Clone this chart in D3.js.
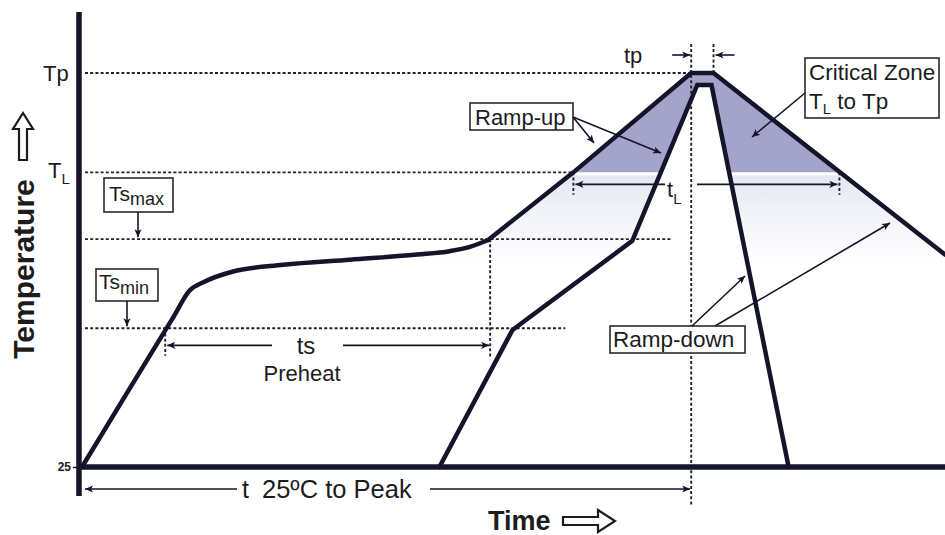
<!DOCTYPE html>
<html>
<head>
<meta charset="utf-8">
<script src="https://cdn.jsdelivr.net/npm/d3@7"></script>
<style>
  body { margin: 0; background: #fff; }
  svg { display: block; font-family: "Liberation Sans", Arial, sans-serif; }
</style>
</head>
<body>
<svg id="chart" width="945" height="535"></svg>
<script>
// Reflow soldering profile (schematic): time in seconds vs temperature in °C.

// Upper (maximum) profile
const outerTime = [0, 20, 45, 53, 60, 74, 99, 132, 165, 181, 191, 200, 242, 300, 311, 425];
const outerTemp = [25, 64, 112.5, 128, 133, 139, 143, 146, 149, 151, 153.5, 157.5, 197, 255, 255, 149];
const soakEndIndex = 11; // preheat/soak part is drawn smooth up to here
// Lower (minimum) profile
const innerTime = [176, 212, 271, 303, 310, 348];
const innerTemp = [25, 105, 157, 248, 248, 25];

// Temperature levels and how far their guide lines run
const levelKeys = ["Tp", "TL", "Tsmax", "Tsmin"];
const levelTemps = [255, 197, 158, 106];
const levelGuideEnd = [300, 242, 290, 238];
const baseTemp = 25;
const tickLabels = ["25"];

// Time spans
const tsSpan = [41, 201];   // preheat, Tsmin to Tsmax
const tlSpan = [242, 373];  // time above liquidus
const tpSpan = [300, 311];  // time at peak
const peakTime = 300;

const level = Object.fromEntries(levelKeys.map((k, i) => [k, levelTemps[i]]));

const W = 945, H = 535;
const svg = d3.select("#chart");
const x = d3.scaleLinear().domain([0, 425]).range([82, 945]);
const y = d3.scaleLinear().domain([25, 255]).range([467, 73]);

const ink = "#14142a";
const outerPts = outerTime.map((t, i) => [t, outerTemp[i]]);
const innerPts = innerTime.map((t, i) => [t, innerTemp[i]]);

const defs = svg.append("defs");
defs.append("clipPath").attr("id", "aboveTL")
  .append("rect").attr("x", 0).attr("y", 0).attr("width", W).attr("height", y(level.TL));
defs.append("clipPath").attr("id", "belowTL")
  .append("rect").attr("x", 0).attr("y", y(level.TL) + 3).attr("width", W).attr("height", y(baseTemp) - y(level.TL) - 3);
const grad = defs.append("linearGradient").attr("id", "fade")
  .attr("gradientUnits", "userSpaceOnUse")
  .attr("x1", 0).attr("x2", 0).attr("y1", y(level.TL)).attr("y2", y(145));
grad.append("stop").attr("offset", 0).attr("stop-color", "#e6e6f3");
grad.append("stop").attr("offset", 1).attr("stop-color", "#ffffff");

defs.append("marker").attr("id", "head")
  .attr("viewBox", "0 0 10 10").attr("refX", 10).attr("refY", 5)
  .attr("markerUnits", "userSpaceOnUse").attr("markerWidth", 10).attr("markerHeight", 8)
  .attr("orient", "auto-start-reverse")
  .append("path").attr("d", "M0,0.5 L10,5 L0,9.5 L2.5,5 Z").attr("fill", ink);

// Shaded zones between the two profiles
const area = d3.area().x(d => x(d[0])).y0(y(baseTemp)).y1(d => y(d[1]));
svg.append("path").datum(outerPts).attr("d", area)
  .attr("fill", "url(#fade)").attr("clip-path", "url(#belowTL)");
svg.append("path").datum(outerPts).attr("d", area)
  .attr("fill", "#a4a3c9").attr("clip-path", "url(#aboveTL)");
svg.append("path").datum(innerPts).attr("d", area).attr("fill", "#fff");

// Dotted guides
const guides = svg.append("g").attr("stroke", "#22222e").attr("stroke-width", 1.9)
  .attr("stroke-dasharray", "3,2.2").attr("fill", "none");
levelKeys.forEach((k, i) => {
  guides.append("line").attr("x1", x(0) + 3).attr("x2", x(levelGuideEnd[i]))
    .attr("y1", y(levelTemps[i])).attr("y2", y(levelTemps[i]));
});
const vGuide = (t, T0, T1) => guides.append("line")
  .attr("x1", x(t)).attr("x2", x(t)).attr("y1", y(T0)).attr("y2", y(T1));
vGuide(tpSpan[0], 272, 3);
vGuide(tpSpan[1], 272, level.Tp);
vGuide(tsSpan[1], level.Tsmax, 89);
vGuide(tsSpan[0], level.Tsmin, 90);
vGuide(tlSpan[0], level.TL, 184);
vGuide(tlSpan[1], level.TL, 184);

// Profile lines: smooth soak, straight ramps
const smooth = d3.line().curve(d3.curveMonotoneX).x(d => x(d[0])).y(d => y(d[1]));
const straight = d3.line().x(d => x(d[0])).y(d => y(d[1]));
const profileStyle = sel => sel.attr("fill", "none").attr("stroke", ink)
  .attr("stroke-width", 4.5).attr("stroke-linejoin", "miter").attr("stroke-linecap", "round");
svg.append("path").datum(outerPts.slice(0, soakEndIndex + 1)).attr("d", smooth).call(profileStyle);
svg.append("path").datum(outerPts.slice(soakEndIndex)).attr("d", straight).call(profileStyle);
svg.append("path").datum(innerPts).attr("d", straight).call(profileStyle);

// Axes
svg.append("line").attr("x1", 79).attr("x2", 79).attr("y1", 12).attr("y2", 496)
  .attr("stroke", ink).attr("stroke-width", 5.5);
svg.append("line").attr("x1", 79).attr("x2", W).attr("y1", y(baseTemp)).attr("y2", y(baseTemp))
  .attr("stroke", ink).attr("stroke-width", 5.5);
const yAxis = svg.append("g").attr("transform", "translate(77,0)")
  .call(d3.axisLeft(y).tickValues([baseTemp]).tickFormat((d, i) => tickLabels[i]).tickSize(4).tickPadding(2));
yAxis.select(".domain").remove();
yAxis.selectAll("line").attr("stroke", ink).attr("stroke-width", 1.5);
yAxis.selectAll("text").attr("font-size", 12).attr("font-weight", "bold")
  .attr("font-family", "'Liberation Sans Narrow', 'Liberation Sans', Arial, sans-serif").attr("fill", "#222");

// Text helpers
const txt = (px, py, s, size, opts = {}) => svg.append("text")
  .attr("x", px).attr("y", py).attr("font-size", size).attr("fill", "#1c1c1c")
  .attr("text-anchor", opts.anchor || "start").attr("font-weight", opts.weight || "normal").text(s);
const subTxt = (px, py, main, sub, size, subSize, dy) => {
  const t = svg.append("text").attr("x", px).attr("y", py).attr("font-size", size).attr("fill", "#1c1c1c");
  t.append("tspan").text(main);
  t.append("tspan").attr("font-size", subSize).attr("dy", dy).text(sub);
  return t;
};
const box = (x0, y0, w, h) => svg.append("rect").attr("x", x0).attr("y", y0)
  .attr("width", w).attr("height", h).attr("fill", "#fff").attr("stroke", "#2a2a2a").attr("stroke-width", 1.6);
const arrow = (x1, y1, x2, y2, both) => {
  const l = svg.append("line").attr("x1", x1).attr("y1", y1).attr("x2", x2).attr("y2", y2)
    .attr("stroke", ink).attr("stroke-width", 1.6).attr("marker-end", "url(#head)");
  if (both) l.attr("marker-start", "url(#head)");
  return l;
};

// Level labels
txt(43, y(level.Tp) + 8, "Tp", 22);
subTxt(48, y(level.TL) + 6, "T", "L", 22, 15, 6);

// Ts max / Ts min callouts
box(104, 178, 69, 34);
subTxt(109, 201, "Ts", "max", 21, 18, 4);
arrow(138, 212, 138, y(level.Tsmax) - 2);
box(96, 269, 62, 32);
subTxt(99, 289, "Ts", "min", 21, 18, 5);
arrow(127, 301, 127, y(level.Tsmin) - 2);

// Preheat span
const tsY = y(96);
arrow(272, tsY, x(tsSpan[0]) + 2, tsY);
arrow(343, tsY, x(tsSpan[1]) - 1, tsY);
txt(306, tsY + 9, "ts", 24, { anchor: "middle" });
txt(302, 381, "Preheat", 22, { anchor: "middle" });

// Time above liquidus
const tlY = y(190);
arrow(665, tlY, x(tlSpan[0]) + 2, tlY);
arrow(697, tlY, x(tlSpan[1]) - 2, tlY);
subTxt(667, tlY + 13, "t", "L", 22, 15, 7);

// Time at peak
const tpY = 55;
arrow(x(tpSpan[0]) - 19, tpY, x(tpSpan[0]) - 1, tpY);
arrow(x(tpSpan[1]) + 21, tpY, x(tpSpan[1]) + 2, tpY);
txt(624, 63, "tp", 22);

// 25 °C to peak
const tpkY = 489;
arrow(237, tpkY, x(0) + 3, tpkY);
arrow(430, tpkY, x(peakTime) - 1, tpkY);
txt(242, 498, "t", 25);
txt(262, 498, "25ºC to Peak", 25.5);

// Ramp-up callout
box(470, 103, 103, 27);
txt(475, 125, "Ramp-up", 22);
arrow(573, 117, 661, 153);
arrow(573, 117, 594, 143);

// Critical zone callout
box(805, 58, 134, 60);
txt(809, 80, "Critical Zone", 22.5);
subTxt(809, 109, "T", "L", 22.5, 15, 5).append("tspan").attr("font-size", 22.5).attr("dy", -5).text(" to Tp");
arrow(805, 93, 752, 137);

// Ramp-down callout
box(610, 326, 135, 27);
txt(613, 347, "Ramp-down", 22.5);
arrow(692, 326, 745, 276);
arrow(715, 326, 890, 223);

// Axis titles with hollow arrows
svg.append("text").attr("transform", "translate(34,269) rotate(-90)")
  .attr("text-anchor", "middle").attr("font-size", 30).attr("font-weight", "bold")
  .attr("fill", "#1c1c1c").text("Temperature");
svg.append("path")
  .attr("d", "M19,160 L19,129 L13,129 L23,113 L33,129 L27,129 L27,160 Z")
  .attr("fill", "#fff").attr("stroke", "#1c1c1c").attr("stroke-width", 2.2).attr("stroke-linejoin", "miter");
txt(488, 530, "Time", 27, { weight: "bold" });
svg.append("path")
  .attr("d", "M563,517 L598,517 L598,510 L615,521 L598,532 L598,525 L563,525 Z")
  .attr("fill", "#fff").attr("stroke", "#1c1c1c").attr("stroke-width", 2.2);
</script>
</body>
</html>
